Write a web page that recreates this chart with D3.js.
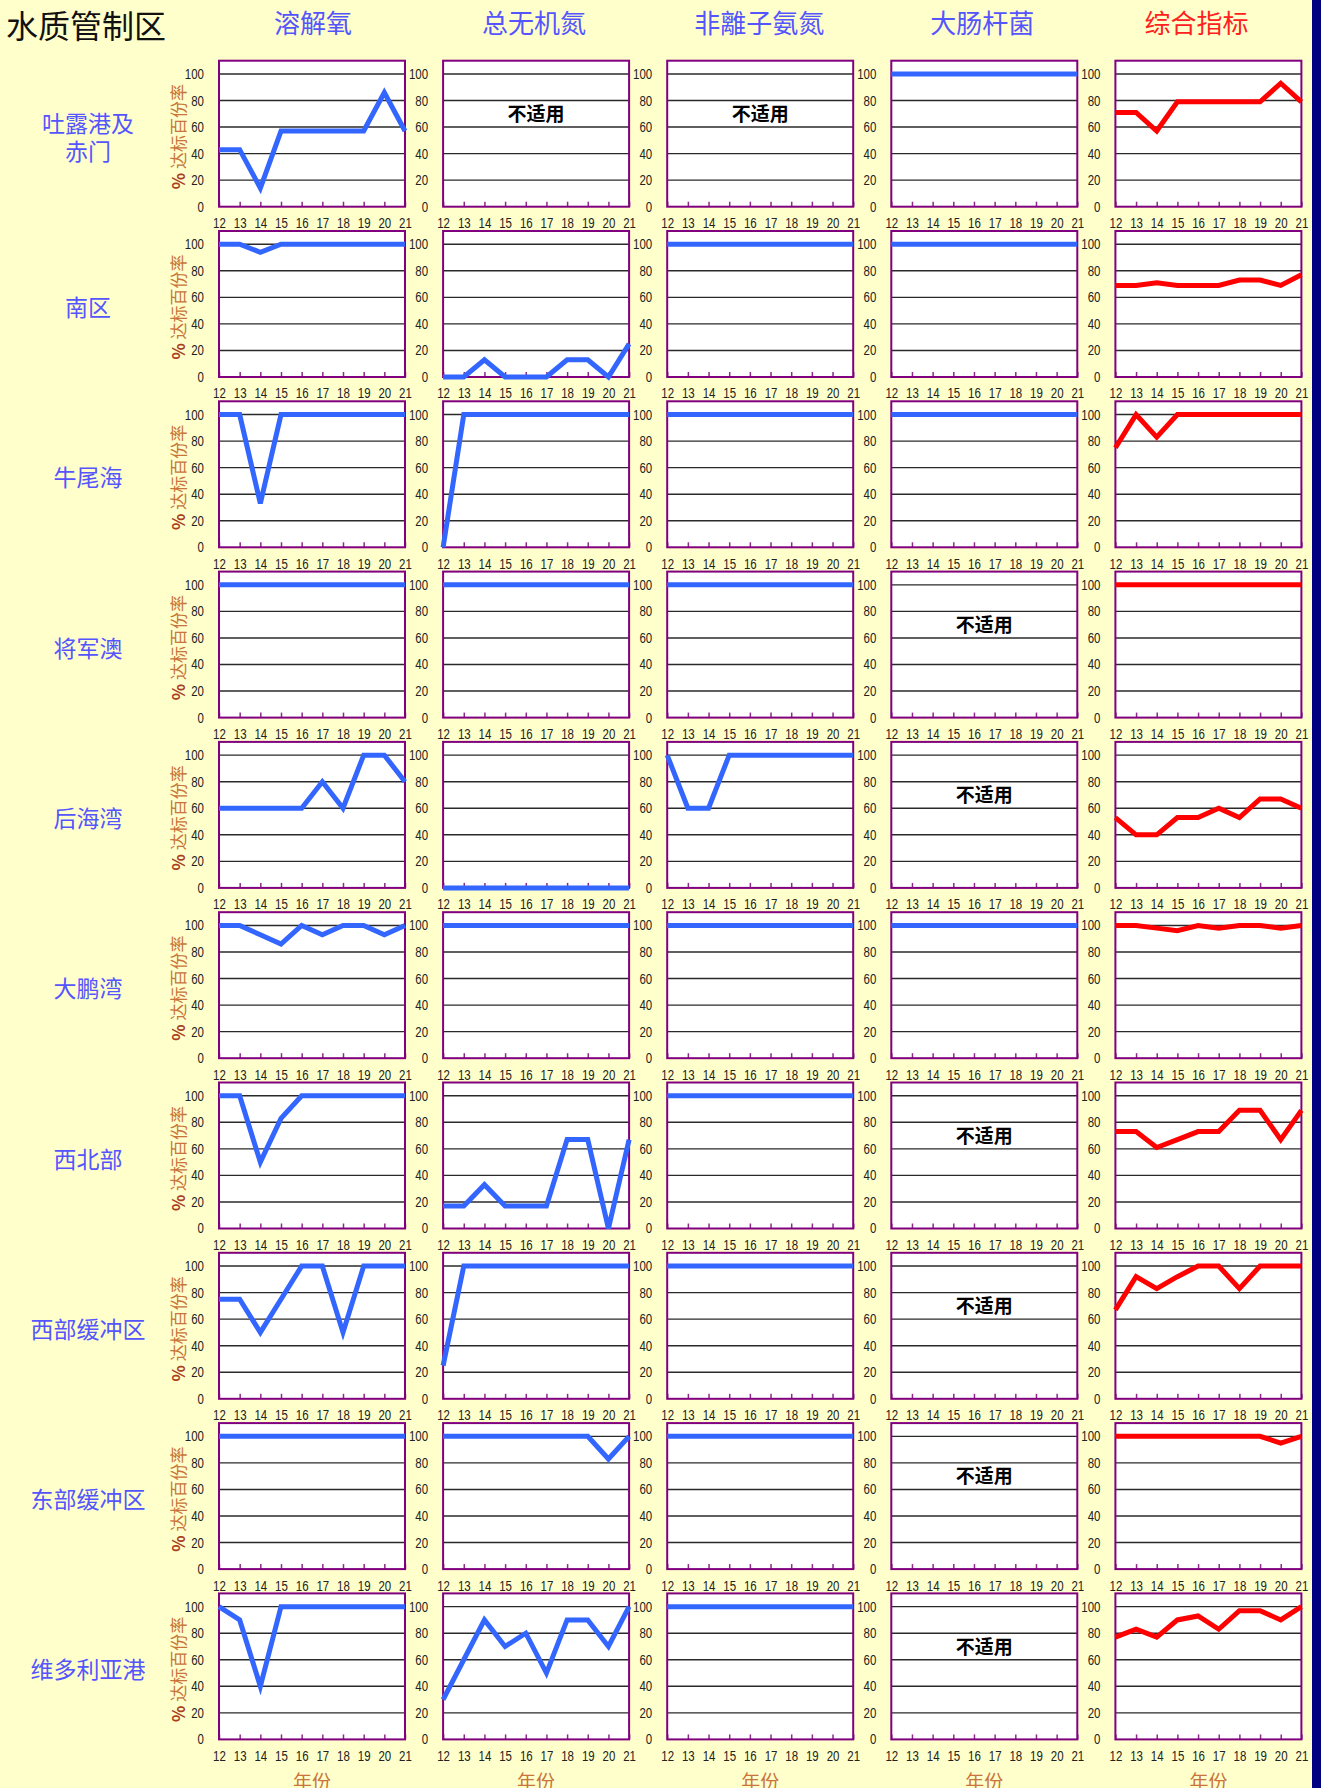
<!DOCTYPE html>
<html>
<head>
<meta charset="utf-8">
<script src="https://cdn.jsdelivr.net/npm/d3@7"></script>
<style>
  html, body { margin: 0; padding: 0; background: #FFFFCC; }
  svg { display: block; }
</style>
</head>
<body>
<svg id="chart" width="1321" height="1788"></svg>
<script>
// ---- data: compliance (%) by water control zone, years 2012–2021 ----
const years = ["12", "13", "14", "15", "16", "17", "18", "19", "20", "21"];
const zones = ["吐露港及\n赤门", "南区", "牛尾海", "将军澳", "后海湾", "大鹏湾", "西北部", "西部缓冲区", "东部缓冲区", "维多利亚港"];
const indicators = ["溶解氧", "总无机氮", "非離子氨氮", "大肠杆菌", "综合指标"];
const yTicks = [0, 20, 40, 60, 80, 100];
const gridValues = [20, 40, 60, 80, 100];

// null = indicator not applicable to the zone
const dissolvedOxygen = [
  [43, 43, 14, 57, 57, 57, 57, 57, 86, 57],
  [100, 100, 94, 100, 100, 100, 100, 100, 100, 100],
  [100, 100, 33, 100, 100, 100, 100, 100, 100, 100],
  [100, 100, 100, 100, 100, 100, 100, 100, 100, 100],
  [60, 60, 60, 60, 60, 80, 60, 100, 100, 80],
  [100, 100, 93, 86, 100, 93, 100, 100, 93, 100],
  [100, 100, 50, 83, 100, 100, 100, 100, 100, 100],
  [75, 75, 50, 75, 100, 100, 50, 100, 100, 100],
  [100, 100, 100, 100, 100, 100, 100, 100, 100, 100],
  [100, 90, 40, 100, 100, 100, 100, 100, 100, 100]
];
const totalInorganicNitrogen = [
  null,
  [0, 0, 13, 0, 0, 0, 13, 13, 0, 25],
  [0, 100, 100, 100, 100, 100, 100, 100, 100, 100],
  [100, 100, 100, 100, 100, 100, 100, 100, 100, 100],
  [0, 0, 0, 0, 0, 0, 0, 0, 0, 0],
  [100, 100, 100, 100, 100, 100, 100, 100, 100, 100],
  [17, 17, 33, 17, 17, 17, 67, 67, 0, 67],
  [25, 100, 100, 100, 100, 100, 100, 100, 100, 100],
  [100, 100, 100, 100, 100, 100, 100, 100, 83, 100],
  [30, 60, 90, 70, 80, 50, 90, 90, 70, 100]
];
const unionisedAmmonia = [
  null,
  [100, 100, 100, 100, 100, 100, 100, 100, 100, 100],
  [100, 100, 100, 100, 100, 100, 100, 100, 100, 100],
  [100, 100, 100, 100, 100, 100, 100, 100, 100, 100],
  [100, 60, 60, 100, 100, 100, 100, 100, 100, 100],
  [100, 100, 100, 100, 100, 100, 100, 100, 100, 100],
  [100, 100, 100, 100, 100, 100, 100, 100, 100, 100],
  [100, 100, 100, 100, 100, 100, 100, 100, 100, 100],
  [100, 100, 100, 100, 100, 100, 100, 100, 100, 100],
  [100, 100, 100, 100, 100, 100, 100, 100, 100, 100]
];
const eColi = [
  [100, 100, 100, 100, 100, 100, 100, 100, 100, 100],
  [100, 100, 100, 100, 100, 100, 100, 100, 100, 100],
  [100, 100, 100, 100, 100, 100, 100, 100, 100, 100],
  null,
  null,
  [100, 100, 100, 100, 100, 100, 100, 100, 100, 100],
  null,
  null,
  null,
  null
];
const overallCompliance = [
  [71, 71, 57, 79, 79, 79, 79, 79, 93, 79],
  [69, 69, 71, 69, 69, 69, 73, 73, 69, 77],
  [75, 100, 83, 100, 100, 100, 100, 100, 100, 100],
  [100, 100, 100, 100, 100, 100, 100, 100, 100, 100],
  [53, 40, 40, 53, 53, 60, 53, 67, 67, 60],
  [100, 100, 98, 96, 100, 98, 100, 100, 98, 100],
  [73, 73, 61, 67, 73, 73, 89, 89, 67, 89],
  [67, 92, 83, 92, 100, 100, 83, 100, 100, 100],
  [100, 100, 100, 100, 100, 100, 100, 100, 95, 100],
  [77, 83, 77, 90, 93, 83, 97, 97, 90, 100]
];
const series = [dissolvedOxygen, totalInorganicNitrogen, unionisedAmmonia, eColi, overallCompliance];

const titleText = "水质管制区";
const naText = "不适用";
const yTitleText = "达标百份率";
const xTitleText = "年份";

// ---- layout ----
const W = 1321, H = 1788;
const panelW = 186, panelH = 146;
const left0 = 219, colStep = 224.1;
const top0 = 60.7, rowStep = 170.3;
const headerShift = [1, -2, -1, -2, -12];

const CJK = "'Noto Sans CJK SC', 'Noto Sans', sans-serif";
const NUM = "'Liberation Sans', Arial, sans-serif";
const numSize = 14;
const blueText = "#5555FF";
const brown = "#C8743A";
const lineColors = ["#3366FF", "#3366FF", "#3366FF", "#3366FF", "#FF0000"];

// narrow numerals: squeeze each label to a condensed advance width
function narrowNumbers(sel) {
  sel.attr("fill", "#222")
    .attr("font-family", NUM)
    .attr("font-size", numSize)
    .attr("lengthAdjust", "spacingAndGlyphs")
    .attr("textLength", function () { return this.textContent.length * 0.456 * numSize; });
}

const svg = d3.select("#chart");
svg.append("rect").attr("width", W).attr("height", H).attr("fill", "#FFFFCC");
svg.append("rect").attr("x", 1312).attr("y", 0).attr("width", 9).attr("height", H).attr("fill", "#000080");

const x = d3.scalePoint().domain(years).range([0, panelW]);
const y = d3.scaleLinear().domain([0, 110]).range([panelH, 0]);
const line = d3.line().x((d, i) => x(years[i])).y(d => y(d));

// title and column headers
svg.append("text")
  .attr("x", 6).attr("y", 24)
  .attr("dominant-baseline", "central")
  .attr("font-family", CJK).attr("font-size", 32).attr("fill", "#111")
  .text(titleText);

indicators.forEach((name, c) => {
  svg.append("text")
    .attr("x", left0 + c * colStep + panelW / 2 + headerShift[c])
    .attr("y", 21)
    .attr("text-anchor", "middle").attr("dominant-baseline", "central")
    .attr("font-family", CJK).attr("font-size", 26)
    .attr("fill", c === 4 ? "#FF2020" : blueText)
    .text(name);
});

zones.forEach((zone, r) => {
  const top = top0 + r * rowStep;
  const cy = top + panelH / 2;

  // zone label (may span two lines)
  const lines = zone.split("\n");
  const zl = svg.append("text")
    .attr("text-anchor", "middle")
    .attr("font-family", CJK).attr("font-size", 23).attr("fill", blueText);
  lines.forEach((t, i) => {
    zl.append("tspan")
      .attr("x", 88)
      .attr("y", cy + 2 + (i - (lines.length - 1) / 2) * 28)
      .attr("dominant-baseline", "central")
      .text(t);
  });

  // rotated y-axis title
  const yt = svg.append("text")
    .attr("transform", `translate(177,${cy + 3}) rotate(-90)`)
    .attr("text-anchor", "middle").attr("dominant-baseline", "central")
    .attr("font-family", CJK).attr("font-size", 17);
  yt.append("tspan").attr("fill", "#A8401E").attr("font-weight", "bold").text("% ");
  yt.append("tspan").attr("fill", brown).text(yTitleText);

  indicators.forEach((ind, c) => {
    const g = svg.append("g")
      .attr("transform", `translate(${left0 + c * colStep},${top})`);

    g.append("rect").attr("width", panelW).attr("height", panelH).attr("fill", "#fff");

    g.selectAll("line.grid").data(gridValues).join("line")
      .attr("class", "grid")
      .attr("x1", 0).attr("x2", panelW)
      .attr("y1", d => y(d)).attr("y2", d => y(d))
      .attr("stroke", "#2a2a2a").attr("stroke-width", 1.4);

    const xa = g.append("g")
      .attr("transform", `translate(0,${panelH})`)
      .call(d3.axisBottom(x).tickSizeInner(-5).tickSizeOuter(0).tickPadding(11.5));
    xa.select(".domain").remove();
    xa.selectAll(".tick line").attr("stroke", "#8a2a8a").attr("stroke-width", 1.5);
    xa.selectAll(".tick text").call(narrowNumbers);

    const ya = g.append("g")
      .call(d3.axisLeft(y).tickValues(yTicks).tickSize(0).tickPadding(15));
    ya.select(".domain").remove();
    ya.selectAll(".tick text").call(narrowNumbers);

    g.append("rect")
      .attr("width", panelW).attr("height", panelH)
      .attr("fill", "none").attr("stroke", "#800080").attr("stroke-width", 2);

    const values = series[c][r];
    if (values) {
      g.append("path")
        .datum(values)
        .attr("d", line)
        .attr("fill", "none")
        .attr("stroke", lineColors[c])
        .attr("stroke-width", 5)
        .attr("stroke-linejoin", "miter");
    } else {
      g.append("text")
        .attr("x", panelW / 2).attr("y", y(71))
        .attr("text-anchor", "middle").attr("dominant-baseline", "central")
        .attr("font-family", CJK).attr("font-size", 19).attr("font-weight", "bold")
        .attr("fill", "#000")
        .text(naText);
    }

    if (r === zones.length - 1) {
      svg.append("text")
        .attr("x", left0 + c * colStep + panelW / 2)
        .attr("y", 1789)
        .attr("text-anchor", "middle")
        .attr("font-family", CJK).attr("font-size", 19).attr("fill", brown)
        .text(xTitleText);
    }
  });
});
</script>
</body>
</html>
